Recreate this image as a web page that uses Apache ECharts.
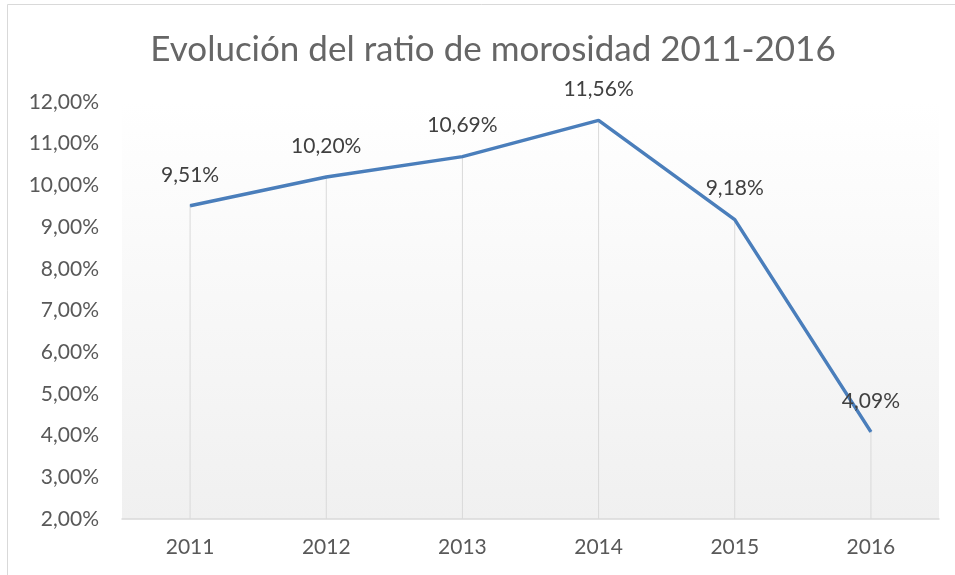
<!DOCTYPE html>
<html>
<head>
<meta charset="utf-8">
<script src="https://cdn.jsdelivr.net/npm/echarts@6/dist/echarts.min.js"></script>
<style>
  html, body { margin: 0; padding: 0; background: #fff; }
  #chart { width: 955px; height: 575px; }
</style>
</head>
<body>
<div id="chart"></div>
<script>
// datos
var years = ['2011', '2012', '2013', '2014', '2015', '2016']
var ratio = [9.51, 10.20, 10.69, 11.56, 9.18, 4.09]
var yMin = 2
var yMax = 12
var yStep = 1

var fmt = function (v) {
  return Number(v).toFixed(2).replace('.', ',') + '%'
}
var font = 'Lato'

var chart = echarts.init(document.getElementById('chart'))
chart.setOption({
  animation: false,
  backgroundColor: '#fff',
  title: {
    text: 'Evolución del ratio de morosidad 2011-2016',
    left: 488,
    textAlign: 'center',
    top: 27,
    textStyle: { fontFamily: font, fontSize: 35, fontWeight: 'normal', color: '#666666' }
  },
  graphic: [{
    type: 'rect',
    shape: { x: 7.5, y: 4.5, width: 960, height: 600 },
    style: { fill: 'none', stroke: '#d9d9d9', lineWidth: 1 },
    silent: true
  }],
  grid: {
    left: 122, right: 16, top: 102, bottom: 56,
    show: true,
    borderWidth: 0,
    backgroundColor: new echarts.graphic.LinearGradient(0, 0, 0, 1, [
      { offset: 0, color: '#ffffff' },
      { offset: 1, color: '#f0f0f0' }
    ])
  },
  xAxis: {
    type: 'category',
    data: years,
    boundaryGap: true,
    axisLine: { lineStyle: { color: '#d9d9d9', width: 1.5 } },
    axisTick: { show: false },
    axisLabel: { fontFamily: font, fontSize: 21, color: '#595959', margin: 18 }
  },
  yAxis: {
    type: 'value',
    min: yMin, max: yMax, interval: yStep,
    axisLine: { show: false },
    axisTick: { show: false },
    splitLine: { show: false },
    axisLabel: { fontFamily: font, fontSize: 21, color: '#595959', margin: 23, formatter: fmt }
  },
  series: [
    {
      // lineas de proyeccion
      type: 'bar',
      data: ratio,
      barWidth: 1,
      clip: true,
      silent: true,
      itemStyle: { color: '#d9d9d9' },
      z: 1
    },
    {
      type: 'line',
      data: ratio,
      symbol: 'circle',
      symbolSize: 1,
      showSymbol: true,
      itemStyle: { color: '#4a7ebb' },
      lineStyle: { color: '#4a7ebb', width: 3.5 },
      label: {
        show: true,
        position: 'top',
        distance: 20,
        fontFamily: font,
        fontSize: 21,
        color: '#404040',
        formatter: function (p) { return fmt(p.value) }
      },
      z: 3
    }
  ]
})
</script>
</body>
</html>
